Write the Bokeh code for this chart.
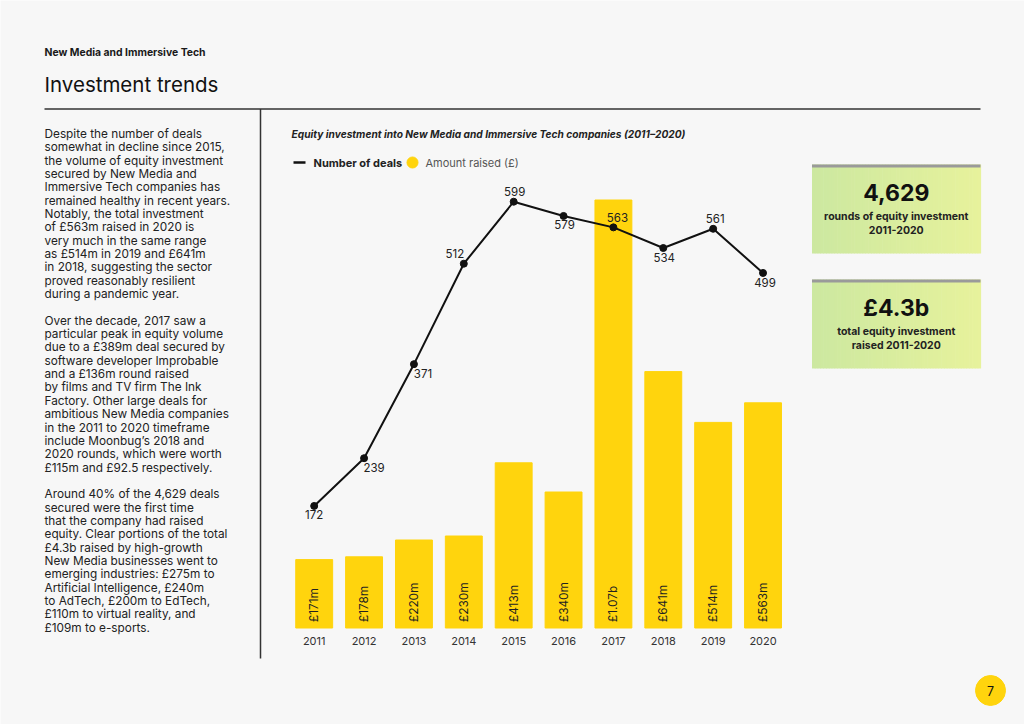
import math
from bokeh.plotting import figure
from bokeh.models import Range1d
from bokeh.core.properties import value
from bokeh.embed import file_html
from bokeh.resources import INLINE

# ---------------- data ----------------
years = [2011, 2012, 2013, 2014, 2015, 2016, 2017, 2018, 2019, 2020]
year_labels = ["2011", "2012", "2013", "2014", "2015", "2016", "2017", "2018", "2019", "2020"]
amount_raised = [171, 178, 220, 230, 413, 340, 1070, 641, 514, 563]  # £m
amount_labels = ["£171m", "£178m", "£220m", "£230m", "£413m", "£340m", "£1.07b", "£641m", "£514m", "£563m"]
number_of_deals = [172, 239, 371, 512, 599, 579, 563, 534, 561, 499]
deal_labels = ["172", "239", "371", "512", "599", "579", "563", "534", "561", "499"]

kpi_values = ["4,629", "£4.3b"]
kpi_captions = [["rounds of equity investment", "2011-2020"],
                ["total equity investment", "raised 2011-2020"]]

# label placement (style only)
deal_dx = [0, 10, 9, -9, 1, 1, 4, 1, 2, 2]
deal_dy = [9, 9, 9, -10, -10, 9, -10, 9, -10, 10]

paragraphs = [
    ["Despite the number of deals",
     "somewhat in decline since 2015,",
     "the volume of equity investment",
     "secured by New Media and",
     "Immersive Tech companies has",
     "remained healthy in recent years.",
     "Notably, the total investment",
     "of £563m raised in 2020 is",
     "very much in the same range",
     "as £514m in 2019 and £641m",
     "in 2018, suggesting the sector",
     "proved reasonably resilient",
     "during a pandemic year."],
    ["Over the decade, 2017 saw a",
     "particular peak in equity volume",
     "due to a £389m deal secured by",
     "software developer Improbable",
     "and a £136m round raised",
     "by films and TV firm The Ink",
     "Factory. Other large deals for",
     "ambitious New Media companies",
     "in the 2011 to 2020 timeframe",
     "include Moonbug’s 2018 and",
     "2020 rounds, which were worth",
     "£115m and £92.5 respectively."],
    ["Around 40% of the 4,629 deals",
     "secured were the first time",
     "that the company had raised",
     "equity. Clear portions of the total",
     "£4.3b raised by high-growth",
     "New Media businesses went to",
     "emerging industries: £275m to",
     "Artificial Intelligence, £240m",
     "to AdTech, £200m to EdTech,",
     "£110m to virtual reality, and",
     "£109m to e-sports."],
]

# ---------------- style ----------------
FONT = "Inter"
BG = "#f7f7f7"
YELLOW = "#ffd40d"
INK = "#1a1a1a"

W, H = 1024, 724
p = figure(width=W, height=H, output_backend="svg", toolbar_location=None,
           x_range=Range1d(0, W), y_range=Range1d(H, 0),
           x_axis_type=None, y_axis_type=None, min_border=0,
           background_fill_color=BG, border_fill_color=BG, outline_line_color=None)
p.grid.visible = False

# chart scales (pixel geometry of the chart area)
x0_px, step_px = 313.7, 49.87
base_amt, k_amt = 627.5, 0.40
base_deal, k_deal = 628.0, 0.7125
p.extra_x_ranges = {"yr": Range1d(2011 + (0 - x0_px) / step_px, 2011 + (W - x0_px) / step_px)}
p.extra_y_ranges = {
    "amt": Range1d((base_amt - H) / k_amt, base_amt / k_amt),
    "deals": Range1d((base_deal - H) / k_deal, base_deal / k_deal),
}


def label(x, y, s, size, style="normal", color=INK, align="left", baseline="middle"):
    p.text(x=[x], y=[y], text=[s], text_font=value(FONT), text_font_size=f"{size}px",
           text_font_style=style, text_color=color, text_align=align, text_baseline=baseline)


# header
label(44, 52, "New Media and Immersive Tech", 10.4, "bold")
label(44, 84, "Investment trends", 20.5, "normal", "#111111")
p.segment(x0=[44], y0=[108.5], x1=[980], y1=[108.5], line_color="#333333", line_width=1.5)
p.segment(x0=[260], y0=[108.5], x1=[260], y1=[658], line_color="#333333", line_width=1.5)

# body text
lines = []
for i, para in enumerate(paragraphs):
    if i:
        lines.append("")
    lines.extend(para)
ys = [133.3 + 13.35 * i for i in range(len(lines))]
p.text(x=[44] * len(lines), y=ys, text=lines, text_font=value(FONT), text_font_size="11.8px",
       text_color="#222222", text_align="left", text_baseline="middle")

# chart title + legend
label(291, 133, "Equity investment into New Media and Immersive Tech companies (2011–2020)", 10.2, "bold italic", "#222222")
p.segment(x0=[293], y0=[162], x1=[305], y1=[162], line_color="#111111", line_width=2.5)
label(313, 162, "Number of deals", 11, "bold", "#222222")
p.scatter(x=[412], y=[162], size=11, color=YELLOW)
label(425, 162, "Amount raised (£)", 11, "normal", "#555555")

# bars
p.vbar(x=years, top=amount_raised, bottom=0, width=0.74, color=YELLOW,
       x_range_name="yr", y_range_name="amt")
p.text(x=years, y=[0] * len(years), y_offset=-6, text=amount_labels, angle=math.pi / 2,
       text_font=value(FONT), text_font_size="11.8px", text_color="#222222",
       text_align="left", text_baseline="middle", x_range_name="yr", y_range_name="amt")
p.text(x=years, y=[0] * len(years), y_offset=13, text=year_labels,
       text_font=value(FONT), text_font_size="11px", text_color="#333333",
       text_align="center", text_baseline="middle", x_range_name="yr", y_range_name="amt")

# deals line
p.line(x=years, y=number_of_deals, line_color="#111111", line_width=2,
       x_range_name="yr", y_range_name="deals")
p.scatter(x=years, y=number_of_deals, size=7, color="#111111",
          x_range_name="yr", y_range_name="deals")
p.text(x=years, y=number_of_deals, x_offset=deal_dx, y_offset=deal_dy, text=deal_labels,
       text_font=value(FONT), text_font_size="11.5px", text_color="#222222",
       text_align="center", text_baseline="middle", x_range_name="yr", y_range_name="deals")

# KPI boxes
c0, c1 = (204, 232, 160), (231, 242, 156)
n = 60
bx0, bx1 = 811.5, 980
for bi, (top, bottom) in enumerate([(164, 253), (279, 368)]):
    edges = [bx0 + (bx1 - bx0) * i / n for i in range(n + 1)]
    cols = []
    for i in range(n):
        t = (i + 0.5) / n
        cols.append("#%02x%02x%02x" % tuple(int(round(a + (b - a) * t)) for a, b in zip(c0, c1)))
    p.quad(left=edges[:-1], right=[e + 0.6 for e in edges[1:]], top=[top] * n, bottom=[bottom] * n,
           fill_color=cols, line_color=None)
    p.quad(left=[bx0], right=[bx1], top=[top], bottom=[top + 3], fill_color="#9a9a9a", line_color=None)
    cx = (bx0 + bx1) / 2
    label(cx, top + 28, kpi_values[bi], 23, "bold", "#111111", "center")
    label(cx, top + 52, kpi_captions[bi][0], 10.5, "bold", "#222222", "center")
    label(cx, top + 65.5, kpi_captions[bi][1], 10.5, "bold", "#222222", "center")

# page number
p.scatter(x=[990], y=[690], size=30, color=YELLOW)
label(990, 690, "7", 12.5, "normal", "#111111", "center")

html = file_html(p, INLINE)
html = html.replace("<body>", '<body style="background-color:#f7f7f7;margin:0;overflow:hidden;">', 1)
open("out.html", "w").write(html)
